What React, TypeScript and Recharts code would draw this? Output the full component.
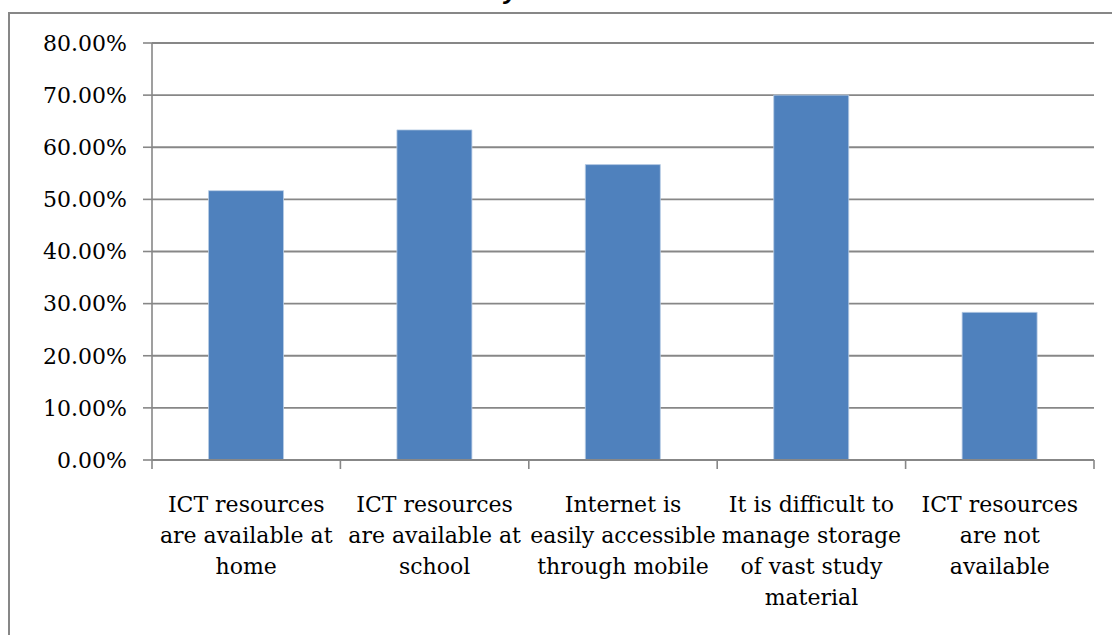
import React from 'react';
import { BarChart, Bar, XAxis, YAxis, CartesianGrid } from 'recharts';

const TITLE = 'Availability of ICT resources';
const categories = [
  'ICT resources are available at home',
  'ICT resources are available at school',
  'Internet is easily accessible through mobile',
  'It is difficult to manage storage of vast study material',
  'ICT resources are not available',
];
const categoryLines: string[][] = [
  ['ICT resources', 'are available at', 'home'],
  ['ICT resources', 'are available at', 'school'],
  ['Internet is', 'easily accessible', 'through mobile'],
  ['It is difficult to', 'manage storage', 'of vast study', 'material'],
  ['ICT resources', 'are not', 'available'],
];
const values = [0.5167, 0.6333, 0.5667, 0.7, 0.2833];
const yTicks = [0, 0.1, 0.2, 0.3, 0.4, 0.5, 0.6, 0.7, 0.8];

const data = categories.map((c, i) => ({ name: c, value: values[i], idx: i }));

const GRAY = '#878787';
const FONT = '"DejaVu Serif", "Liberation Serif", serif';

const W = 1106;
const H = 636;
const MARGIN = { top: 29, right: 22, left: 0, bottom: 30 };
const YW = 142;
const PLOT_W = W - MARGIN.left - MARGIN.right - YW;

const XTick = (props: any) => {
  const { x, y, payload, index } = props;
  const half = payload && payload.offset ? payload.offset : PLOT_W / categories.length / 2;
  const i = typeof index === 'number' ? index : payload.index;
  const lines = categoryLines[i] || [String(payload.value)];
  const axisY = y - 8;
  return (
    <g>
      <line x1={x - half} x2={x - half} y1={axisY} y2={axisY + 9} stroke={GRAY} strokeWidth={1.6} />
      {i === categories.length - 1 && (
        <line x1={x + half} x2={x + half} y1={axisY} y2={axisY + 9} stroke={GRAY} strokeWidth={1.6} />
      )}
      <text x={x} y={axisY + 52} textAnchor="middle" fontFamily={FONT} fontSize={22} fill="#000">
        {lines.map((l, k) => (
          <tspan key={k} x={x} dy={k === 0 ? 0 : 31}>
            {l}
          </tspan>
        ))}
      </text>
    </g>
  );
};

export default function App() {
  return (
    <div style={{ position: 'absolute', left: 0, top: 0, width: 1112, height: 635, overflow: 'hidden', background: '#fff' }}>
      <div
        style={{
          position: 'absolute',
          left: 0,
          width: 1112,
          top: -25,
          textAlign: 'center',
          fontFamily: '"Liberation Sans", Arial, sans-serif',
          fontWeight: 'bold',
          fontStyle: 'italic',
          fontSize: 26,
          lineHeight: '30px',
          color: '#000',
        }}
      >
        {TITLE}
      </div>
      <div
        style={{
          position: 'absolute',
          left: 8,
          top: 12,
          width: W + 4,
          height: H + 4,
          border: `2px solid ${GRAY}`,
          boxSizing: 'border-box',
          background: '#fff',
        }}
      >
        <BarChart width={W} height={H} data={data} margin={MARGIN} barCategoryGap="30%">
          <CartesianGrid vertical={false} stroke={GRAY} strokeWidth={1.8} />
          <XAxis
            dataKey="name"
            interval={0}
            height={160}
            axisLine={{ stroke: GRAY, strokeWidth: 1.8 }}
            tickLine={false}
            tick={<XTick />}
          />
          <YAxis
            width={YW}
            domain={[0, 0.8]}
            ticks={yTicks}
            interval={0}
            tickFormatter={(v: number) => (v * 100).toFixed(2) + '%'}
            axisLine={{ stroke: GRAY, strokeWidth: 1.6 }}
            tickLine={{ stroke: GRAY, strokeWidth: 1.6 }}
            tickSize={9}
            tickMargin={16}
            tick={{ fontFamily: FONT, fontSize: 22, fill: '#000' }}
          />
          <Bar dataKey="value" fill="#4F81BD" stroke="#B9CDE5" strokeWidth={0.8} isAnimationActive={false} />
        </BarChart>
      </div>
    </div>
  );
}
